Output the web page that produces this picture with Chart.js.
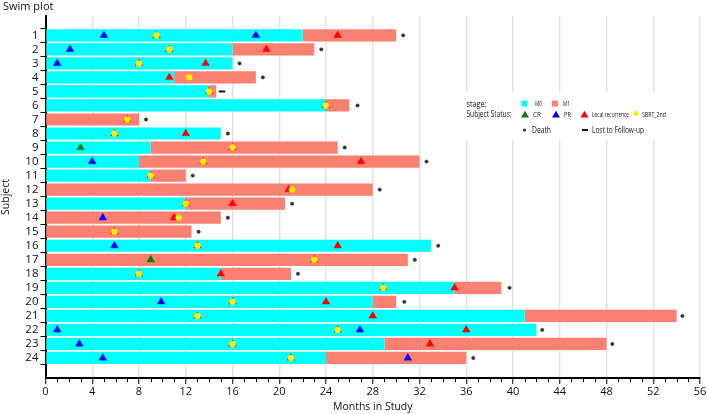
<!DOCTYPE html>
<html>
<head>
<meta charset="utf-8">
<script src="https://cdn.jsdelivr.net/npm/chart.js@4.4.1/dist/chart.umd.min.js"></script>
<style>
html, body { margin: 0; padding: 0; background: #fff; }
canvas { display: block; }
</style>
</head>
<body>
<canvas id="swim" width="708" height="414"></canvas>
<script>
// subjects on the y axis
const subjects = [1, 2, 3, 4, 5, 6, 7, 8, 9, 10, 11, 12, 13, 14, 15, 16, 17, 18, 19, 20, 21, 22, 23, 24];
// month where stage M0 ends (0 = started in M1)
const m0End = [22, 16, 16, 11, 14, 24, 0, 15, 9, 8, 9, 0, 12, 0, 0, 33, 0, 15, 35, 28, 41, 42, 29, 24];
// month where follow-up ends
const studyEnd = [30, 23, 16, 18, 14.6, 26, 8, 15, 25, 32, 12, 28, 20.5, 15, 12.5, 33, 31, 21, 39, 30, 54, 42, 48, 36];

// events as [subject, month]
const crEvents = [[9, 3], [17, 9]];
const prEvents = [[1, 5], [1, 18], [2, 2.1], [3, 1], [10, 4], [14, 4.9], [16, 5.9], [20, 9.9],
  [22, 1], [22, 26.9], [23, 2.9], [24, 4.9], [24, 31]];
const lrEvents = [[1, 9.5], [1, 25], [2, 10.6], [2, 18.9], [3, 8], [3, 13.7], [4, 10.6], [5, 14], [6, 24],
  [7, 7], [8, 5.9], [8, 12], [9, 16], [10, 13.5], [10, 27], [11, 9], [12, 20.8], [13, 12], [13, 16],
  [14, 11], [15, 5.9], [16, 13], [16, 25], [17, 23], [18, 8], [18, 15], [19, 28.9], [19, 35], [20, 16],
  [20, 24], [21, 13], [21, 28], [22, 25], [22, 36], [23, 16], [23, 32.9], [24, 21]];
const sbrtEvents = [[1, 9.5], [2, 10.6], [3, 8], [4, 12.3], [5, 14], [6, 24], [7, 7], [8, 5.9], [9, 16],
  [10, 13.5], [11, 9], [12, 21.1], [13, 12], [14, 11.4], [15, 5.9], [16, 13], [17, 23], [18, 8],
  [19, 28.9], [20, 16], [21, 13], [22, 25], [23, 16], [24, 21]];
const deathEvents = [[1, 30.6], [2, 23.6], [3, 16.6], [4, 18.6], [6, 26.7], [7, 8.6], [8, 15.6], [9, 25.6],
  [10, 32.6], [11, 12.6], [12, 28.6], [13, 21.1], [14, 15.6], [15, 13.1], [16, 33.6], [17, 31.6],
  [18, 21.6], [19, 39.7], [20, 30.7], [21, 54.5], [22, 42.5], [23, 48.5], [24, 36.6]];
const lostEvents = [[5, 15.1]];

const monthTicks = [];
for (let m = 0; m <= 56; m++) monthTicks.push(m);

const FONT = '"Open Sans", "DejaVu Sans", sans-serif';
const TEXT = '#111';
const CYAN = '#00ffff';
const SALMON = '#fa8072';

const m0Bars = subjects.filter((s, i) => m0End[i] > 0).map(s => ({ x: [0, m0End[s - 1]], y: s }));
const m1Bars = subjects.filter((s, i) => studyEnd[i] > m0End[i]).map(s => ({ x: [m0End[s - 1], studyEnd[s - 1]], y: s }));

function pts(list) {
  return list.map(([s, m]) => ({ x: m, y: s }));
}

function markers(label, list, style, radius, color, order) {
  return {
    type: 'scatter',
    label: label,
    data: pts(list),
    pointStyle: style,
    pointRadius: radius,
    pointBackgroundColor: color,
    pointBorderColor: color,
    pointBorderWidth: style === 'line' ? 2 : 0.5,
    order: order
  };
}

function legendTriangle(ctx, x, y, color) {
  ctx.fillStyle = color;
  ctx.beginPath();
  ctx.moveTo(x, y - 4.2);
  ctx.lineTo(x + 4, y + 2.6);
  ctx.lineTo(x - 4, y + 2.6);
  ctx.closePath();
  ctx.fill();
}

function legendText(ctx, text, x, y, size, w) {
  ctx.fillStyle = TEXT;
  ctx.font = size + 'px ' + FONT;
  ctx.textBaseline = 'middle';
  ctx.textAlign = 'left';
  if (w) ctx.fillText(text, x, y, w); else ctx.fillText(text, x, y);
}

const swimExtras = {
  id: 'swimExtras',
  afterDraw(chart) {
    const { ctx, chartArea, scales } = chart;
    const x = scales.x;
    ctx.save();

    // minor ticks on the months axis
    ctx.strokeStyle = '#000';
    ctx.lineWidth = 1;
    for (const m of monthTicks) {
      if (m % 4 === 0) continue;
      const px = Math.round(x.getPixelForValue(m)) + 0.5;
      ctx.beginPath();
      ctx.moveTo(px, chartArea.bottom + 1);
      ctx.lineTo(px, chartArea.bottom + 4);
      ctx.stroke();
    }

    // title
    ctx.fillStyle = TEXT;
    ctx.font = '11px ' + FONT;
    ctx.textBaseline = 'middle';
    ctx.fillText('Swim plot', 3, 7);

    // legend block
    ctx.fillStyle = '#fff';
    ctx.fillRect(462, 92, 228, 48);

    legendText(ctx, 'stage:', 466.5, 104, 9, 20);
    ctx.fillStyle = CYAN;
    ctx.fillRect(521.5, 100.5, 6, 6);
    legendText(ctx, 'M0', 535, 103.5, 8, 7);
    ctx.fillStyle = SALMON;
    ctx.fillRect(552, 100.5, 6, 6);
    legendText(ctx, 'M1', 563, 103.5, 8, 7);

    legendText(ctx, 'Subject Status:', 466.5, 114.5, 9, 45);
    legendTriangle(ctx, 525, 115, '#008000');
    legendText(ctx, 'CR', 533, 114.5, 8, 8);
    legendTriangle(ctx, 556, 115, '#0000ff');
    legendText(ctx, 'PR', 564, 114.5, 8, 7);
    legendTriangle(ctx, 584.5, 115, '#ff0000');
    legendText(ctx, 'Local recurrence', 592, 115, 7, 37);
    ctx.fillStyle = '#ffee00';
    ctx.beginPath();
    ctx.arc(636, 113.5, 2.5, 0, Math.PI * 2);
    ctx.fill();
    legendText(ctx, 'SBRT_2nd', 642, 114.5, 8, 24);

    ctx.fillStyle = '#333';
    ctx.beginPath();
    ctx.arc(524.5, 130, 1.6, 0, Math.PI * 2);
    ctx.fill();
    legendText(ctx, 'Death', 532, 130, 9, 19);
    ctx.fillStyle = '#111';
    ctx.fillRect(582, 129, 6, 2);
    legendText(ctx, 'Lost to Follow-up', 592, 130, 9, 52);

    ctx.restore();
  }
};

new Chart(document.getElementById('swim'), {
  type: 'bar',
  data: {
    datasets: [
      markers('SBRT_2nd', sbrtEvents, 'circle', 3, '#ffee00', 1),
      markers('Death', deathEvents, 'circle', 1.7, '#333333', 2),
      markers('Lost to Follow-up', lostEvents, 'line', 3.2, '#111111', 2),
      markers('CR', crEvents, 'triangle', 4.4, '#008000', 3),
      markers('PR', prEvents, 'triangle', 4.4, '#0000ff', 3),
      markers('Local recurrence', lrEvents, 'triangle', 4.4, '#ff0000', 4),
      {
        type: 'bar',
        label: 'M0',
        data: m0Bars,
        backgroundColor: CYAN,
        borderWidth: 0,
        grouped: false,
        barPercentage: 0.87,
        categoryPercentage: 1,
        order: 10
      },
      {
        type: 'bar',
        label: 'M1',
        data: m1Bars,
        backgroundColor: SALMON,
        borderWidth: 0,
        grouped: false,
        barPercentage: 0.87,
        categoryPercentage: 1,
        order: 10
      }
    ]
  },
  options: {
    indexAxis: 'y',
    responsive: false,
    animation: false,
    layout: { padding: { top: 16, right: 8, left: 0, bottom: 0 } },
    plugins: {
      legend: { display: false },
      tooltip: { enabled: false }
    },
    scales: {
      x: {
        type: 'linear',
        min: 0,
        max: 56,
        afterBuildTicks: s => { s.ticks = monthTicks.map(v => ({ value: v })); },
        afterFit: s => { s.height = 36; },
        border: { color: '#000', width: 2 },
        grid: {
          color: c => (c.tick && c.tick.value % 4 === 0 && c.tick.value !== 0) ? '#e2e2e2' : 'rgba(0,0,0,0)',
          lineWidth: 1.5,
          tickColor: c => (c.tick && c.tick.value % 4 === 0) ? '#000' : 'rgba(0,0,0,0)',
          tickLength: 6,
          tickWidth: 1
        },
        ticks: {
          autoSkip: false,
          maxRotation: 0,
          padding: 1,
          color: TEXT,
          font: { family: FONT, size: 11 },
          callback: v => (v % 4 === 0 ? String(v) : '')
        },
        title: {
          display: true,
          text: 'Months in Study',
          color: TEXT,
          font: { family: FONT, size: 10.5 },
          padding: { top: 0, bottom: 1 }
        }
      },
      y: {
        type: 'linear',
        reverse: true,
        min: 0.16,
        max: 24.89,
        afterBuildTicks: s => { s.ticks = subjects.map(v => ({ value: v })); },
        afterFit: s => { s.width = 45.5; },
        border: { color: '#000', width: 2 },
        grid: {
          drawOnChartArea: false,
          tickColor: '#000',
          tickLength: 5,
          tickWidth: 1
        },
        ticks: {
          autoSkip: false,
          padding: 2,
          color: TEXT,
          font: { family: FONT, size: 11.5 }
        },
        title: {
          display: true,
          text: 'Subject',
          color: TEXT,
          font: { family: FONT, size: 10.5 },
          padding: { top: 0, bottom: 0 }
        }
      }
    }
  },
  plugins: [swimExtras]
});
</script>
</body>
</html>
